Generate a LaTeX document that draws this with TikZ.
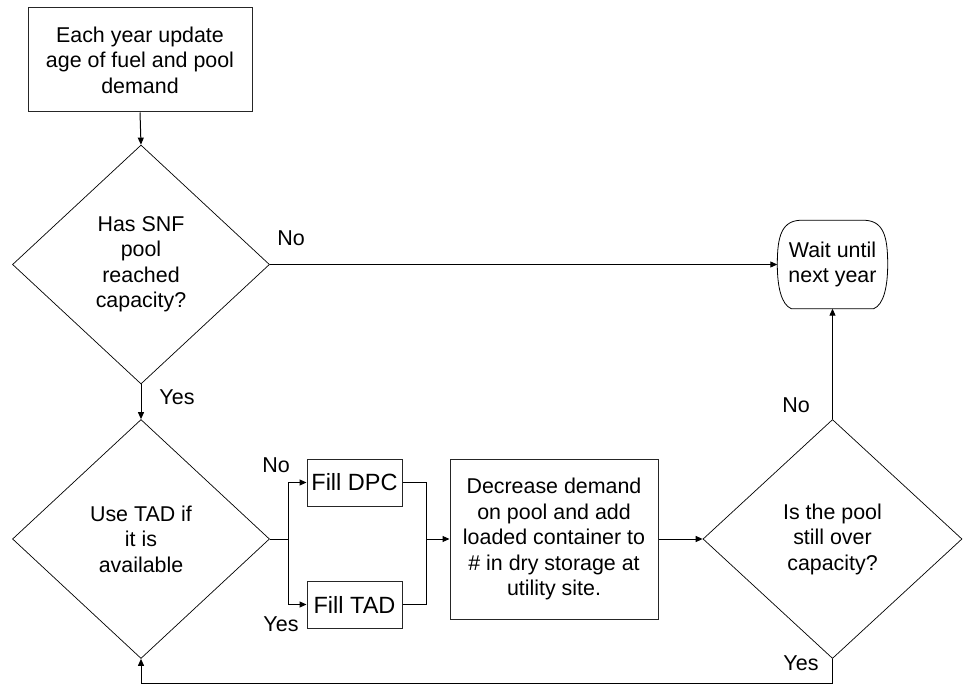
\documentclass[tikz,border=0pt]{standalone}
\usepackage{fontspec}
\setmainfont{Liberation Sans}
\usetikzlibrary{shapes.geometric,arrows.meta,calc}
\begin{document}
\begin{tikzpicture}[x=1pt,y=-1pt,
  txt/.style={font=\fontsize{21.4}{25.5}\selectfont, align=center, inner sep=0pt},
  boxnode/.style={txt, draw=black!85, line width=1pt, rectangle},
  fillbox/.style={draw=black!85, line width=1pt, rectangle, inner sep=0pt, font=\fontsize{23.5}{27}\selectfont},
  decision/.style={txt, draw, line width=0.7pt, diamond},
  lbl/.style={font=\fontsize{21.5}{25}\selectfont, inner sep=0pt},
  conn/.style={line width=1pt},
  arr/.style={conn, -{Triangle[length=7pt,width=6pt]}}]
\useasboundingbox (0,0) rectangle (964,692);
\fill[white] (0,0) rectangle (964,692);

\node[boxnode, minimum width=224pt, minimum height=104pt] (top) at (140,60)
  {Each year update\\age of fuel and pool\\demand};
\node[decision, minimum width=257pt, minimum height=239pt] (d1) at (141,264.5)
  {Has SNF\\pool\\reached\\capacity?};
\node[decision, minimum width=257pt, minimum height=239pt] (d2) at (141,539)
  {Use TAD if\\it is\\available};
\node[fillbox, minimum width=95pt, minimum height=47pt] (dpc) at (354.5,482.5) {Fill DPC};
\node[fillbox, minimum width=95pt, minimum height=47pt] (tad) at (354.5,604.5) {Fill TAD};
\node[boxnode, minimum width=208pt, minimum height=160pt] (big) at (554,539)
  {Decrease demand\\on pool and add\\loaded container to\\\# in dry storage at\\utility site.};
\node[decision, minimum width=259pt, minimum height=239pt] (d3) at (832.5,539)
  {Is the pool\\still over\\capacity?};
\node[txt, minimum width=110pt, minimum height=88pt] (wait) at (832.5,264.5)
  {Wait until\\next year};
\draw[line width=0.8pt]
  ($(wait.south west)+(14,0)$) -- ($(wait.south east)+(-14,0)$)
  .. controls ($(wait.south east)+(-4,-4)$) and ($(wait.east)+(0,22)$) .. (wait.east)
  .. controls ($(wait.east)+(0,-28)$) and ($(wait.north east)+(-4,-1)$) .. ($(wait.north east)+(-26,0)$)
  -- ($(wait.north west)+(26,0)$)
  .. controls ($(wait.north west)+(4,-1)$) and ($(wait.west)+(0,-28)$) .. (wait.west)
  .. controls ($(wait.west)+(0,22)$) and ($(wait.south west)+(4,-4)$) .. ($(wait.south west)+(14,0)$)
  -- cycle;

\coordinate (split) at (288,539);
\coordinate (join) at (426,539);

\draw[arr] (top.south) -- (d1.north);
\draw[arr] (d1.east) -- (d1.east -| wait.west);
\draw[arr] (d1.south) -- (d2.north);
\draw[conn] (d2.east) -- (split);
\draw[arr] (split) |- (dpc.west);
\draw[arr] (split) |- (tad.west);
\draw[conn] (dpc.east) -| (join);
\draw[conn] (tad.east) -| (join);
\draw[arr] (join) -- (big.west);
\draw[arr] (big.east) -- (d3.west);
\draw[arr] (d3.north) -- (wait.south);
\draw[arr] (d3.south) -- ++(0,25) -| (d2.south);

\node[lbl] (l1) at (291,238) {No};
\node[lbl] (l2) at (177,397) {Yes};
\node[lbl] (l3) at (276,465) {No};
\node[lbl] (l4) at (281,624) {Yes};
\node[lbl] (l5) at (796,405) {No};
\node[lbl] (l6) at (801,663) {Yes};
\end{tikzpicture}
\end{document}
